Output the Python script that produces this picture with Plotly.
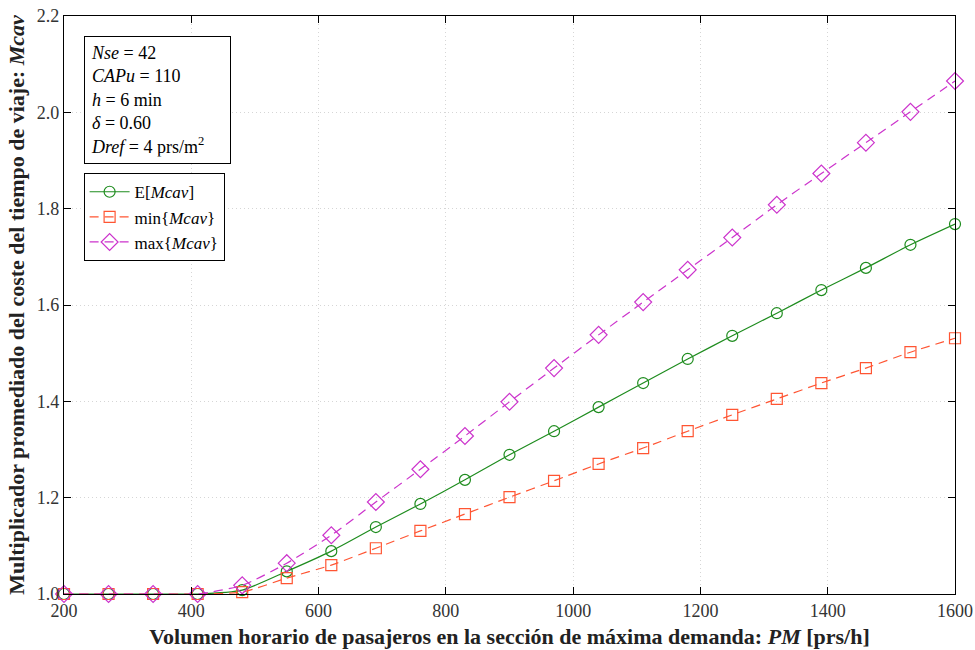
import plotly.graph_objects as go

pm = [200, 270, 340, 410, 480, 550, 620, 690, 760, 830, 900, 970, 1040,
      1110, 1180, 1250, 1320, 1390, 1460, 1530, 1600]
e_mcav = [1.0, 1.0, 1.0, 1.0, 1.008, 1.047, 1.089, 1.139, 1.187, 1.237, 1.289,
          1.338, 1.388, 1.438, 1.488, 1.536, 1.583, 1.631, 1.677, 1.725, 1.768]
min_mcav = [1.0, 1.0, 1.0, 1.0, 1.004, 1.033, 1.060, 1.095, 1.131, 1.166, 1.201,
            1.235, 1.270, 1.303, 1.338, 1.372, 1.405, 1.438, 1.469, 1.502, 1.531]
max_mcav = [1.0, 1.0, 1.0, 1.0, 1.018, 1.064, 1.122, 1.191, 1.259, 1.328, 1.399,
            1.469, 1.538, 1.606, 1.673, 1.740, 1.808, 1.873, 1.937, 2.001, 2.065]

GREEN = "#1e8c1e"
RED = "#ff5533"
MAG = "#cc33cc"
FONT = "Liberation Serif"

fig = go.Figure()
fig.add_trace(go.Scatter(x=pm, y=e_mcav, name="E[<i>Mcav</i>]", mode="lines+markers", cliponaxis=False,
                         line=dict(color=GREEN, width=1.2, shape="spline", smoothing=0.6),
                         marker=dict(symbol="circle-open", size=11, color=GREEN, line=dict(width=1.2))))
fig.add_trace(go.Scatter(x=pm, y=min_mcav, name="min{<i>Mcav</i>}", mode="lines+markers", cliponaxis=False,
                         line=dict(color=RED, width=1.2, dash="9px,6px", shape="spline", smoothing=0.6),
                         marker=dict(symbol="square-open", size=11, color=RED, line=dict(width=1.2))))
fig.add_trace(go.Scatter(x=pm, y=max_mcav, name="max{<i>Mcav</i>}", mode="lines+markers", cliponaxis=False,
                         line=dict(color=MAG, width=1.2, dash="9px,6px", shape="spline", smoothing=0.6),
                         marker=dict(symbol="diamond-open", size=13, color=MAG, line=dict(width=1.2))))

axis_common = dict(showline=True, linecolor="black", linewidth=1.2, mirror="allticks",
                   ticks="inside", ticklen=7, tickcolor="black", automargin=False,
                   showgrid=True, gridcolor="#d6d6d6", griddash="1px,3px", gridwidth=1,
                   zeroline=False, tickfont=dict(family=FONT, size=18, color="#333333"))

fig.update_xaxes(range=[200, 1600], dtick=200, **axis_common,
                 title=dict(text="Volumen horario de pasajeros en la sección de máxima demanda: <i>PM</i> [prs/h]",
                            font=dict(family=FONT, size=22, color="#222222", weight="bold"), standoff=8))
fig.update_yaxes(range=[1.0, 2.2], dtick=0.2, tickformat=".1f", **axis_common,
                 title=dict(text="Multiplicador promediado del coste del tiempo de viaje: <i>Mcav</i>",
                            font=dict(family=FONT, size=22, color="#222222", weight="bold"), standoff=6))

fig.add_annotation(xref="paper", yref="paper", x=0.022, y=0.965, xanchor="left", yanchor="top",
                   text="<i>Nse</i> = 42<br><i>CAPu</i> = 110<br><i>h</i> = 6 min<br><i>δ</i> = 0.60<br><i>Dref</i> = 4 prs/m<sup>2</sup>",
                   showarrow=False, align="left", bordercolor="black", borderwidth=1, borderpad=6,
                   bgcolor="white", width=133, font=dict(family=FONT, size=18, color="black"))

fig.update_layout(width=975, height=650, plot_bgcolor="white", paper_bgcolor="white",
                  margin=dict(l=64, r=20, t=16, b=56),
                  legend=dict(x=0.022, y=0.728, xanchor="left", yanchor="top",
                              bordercolor="black", borderwidth=1, bgcolor="white",
                              font=dict(family=FONT, size=17, color="black"),
                              tracegroupgap=0, itemwidth=40, entrywidth=125))

fig.write_html("out.html")
